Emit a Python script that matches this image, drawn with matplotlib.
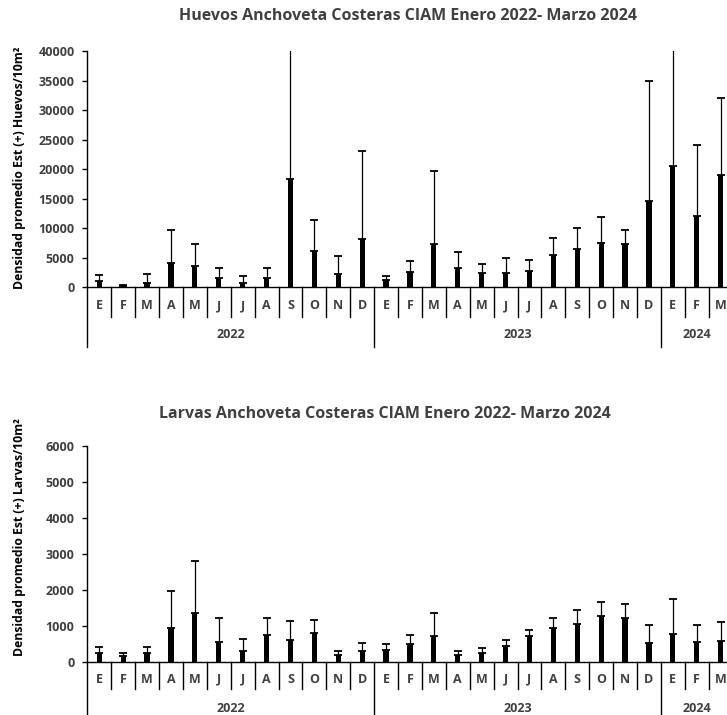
import numpy as np
import matplotlib
matplotlib.use("Agg")
import matplotlib.pyplot as plt

# -------------------------
# Data
# -------------------------
months = ["E", "F", "M", "A", "M", "J", "J", "A", "S", "O", "N", "D",
          "E", "F", "M", "A", "M", "J", "J", "A", "S", "O", "N", "D",
          "E", "F", "M"]
years = ["2022", "2023", "2024"]
months_per_year = [12, 12, 3]

huevos_mean = [1020, 200, 740, 4150, 3580, 1590, 800, 1530, 18400, 6200, 2200, 8240,
               1190, 2610, 7270, 3240, 2440, 2390, 2840, 5450, 6480, 7440, 7330, 14660,
               20510, 12050, 19030]
huevos_upper = [2160, 450, 2330, 9770, 7270, 3350, 1930, 3350, 46000, 11360, 5340, 23070,
                1990, 4430, 19660, 6020, 3920, 4890, 4550, 8410, 10110, 11820, 9770, 34890,
                46000, 24090, 32050]

larvas_mean = [260, 175, 260, 950, 1375, 555, 315, 748, 620, 820, 195, 315,
               332, 517, 720, 195, 250, 443, 720, 950, 1052, 1274, 1218, 545,
               775, 563, 582]
larvas_upper = [430, 270, 425, 1966, 2800, 1237, 646, 1218, 1135, 1180, 323, 535,
                500, 757, 1357, 323, 388, 618, 905, 1218, 1440, 1671, 1625, 1043,
                1745, 1043, 1117]

titles = ["Huevos Anchoveta Costeras CIAM Enero 2022- Marzo 2024",
          "Larvas Anchoveta Costeras CIAM Enero 2022- Marzo 2024"]
ylabels = ["Densidad promedio Est (+) Huevos/10m\u00b2",
           "Densidad promedio Est (+) Larvas/10m\u00b2"]

plt.rcParams['font.family'] = ['Open Sans', 'DejaVu Sans']
TXT = '#404040'
W, H = 727, 715
FS = 9.0

fig = plt.figure(figsize=(W / 100, H / 100), dpi=100)


def px_axes(left, top, bottom, right):
    # pixel box -> figure fraction rect
    return [left / W, 1 - bottom / H, (right - left) / W, (bottom - top) / H]


def draw_panel(ax, mean, upper, ymax, ystep, ylabel, ylabel_y, month_px, year_px):
    n = len(mean)
    x = np.arange(n)
    mean = np.array(mean)
    err = np.array(upper) - mean
    ax.bar(x, mean, width=0.22, color='black', zorder=2)
    ax.errorbar(x, mean, yerr=[np.zeros(n), err], fmt='none', ecolor='black',
                elinewidth=0.9, capsize=3.2, capthick=1.3, zorder=1)

    ax.set_xlim(-0.5, n - 0.5)
    ax.set_ylim(0, ymax)
    ax.set_yticks(np.arange(0, ymax + 1, ystep))
    for s in ['top', 'right']:
        ax.spines[s].set_visible(False)
    ax.spines['left'].set_linewidth(1)
    ax.spines['bottom'].set_linewidth(1)
    ax.tick_params(axis='y', direction='out', length=3.6, width=1, colors='black',
                   labelcolor=TXT, labelsize=FS, pad=5.5)
    for t in ax.get_yticklabels():
        t.set_fontweight('bold')

    # month labels + separators
    hpx = ax.get_position().height * H
    ax.set_xticks(x)
    ax.set_xticklabels(months, fontweight='bold', color=TXT, fontsize=FS)
    ax.tick_params(axis='x', length=0, pad=(month_px[1] - 8) * 0.72)
    tr = ax.get_xaxis_transform()
    m_len = month_px[0] / hpx
    y_len = year_px[0] / hpx
    bounds = np.cumsum([0] + months_per_year) - 0.5
    for i in range(1, n):
        if (i - 0.5) in bounds:
            continue
        ax.plot([i - 0.5, i - 0.5], [0, -m_len], transform=tr, color='black',
                lw=1, clip_on=False)
    for b in bounds[:-1]:
        ax.plot([b, b], [0, -y_len], transform=tr, color='black', lw=1, clip_on=False)
    for k, yr in enumerate(years):
        c = (bounds[k] + bounds[k + 1]) / 2
        ax.text(c, -year_px[1] / hpx, yr, transform=tr, ha='center', va='center',
                fontweight='bold', color=TXT, fontsize=FS)

    ax.set_ylabel(ylabel, fontweight='bold', fontsize=8.8, color='black')
    ax.yaxis.set_label_coords(-0.095, ylabel_y)


ax1 = fig.add_axes(px_axes(87.3, 51, 287.3, 87.3 + 27 * 23.9))
draw_panel(ax1, huevos_mean, huevos_upper, 40000, 5000, ylabels[0], 0.506,
           month_px=(29.5, 20), year_px=(60, 47))
fig.text(407.7 / W, 1 - 15.5 / H, titles[0], ha='center', va='center',
         fontweight='bold', color=TXT, fontsize=11.5)

ax2 = fig.add_axes(px_axes(87.3, 445.7, 662.3, 87.3 + 27 * 23.9))
draw_panel(ax2, larvas_mean, larvas_upper, 6000, 1000, ylabels[1], 0.578,
           month_px=(27, 18.5), year_px=(60, 46))
fig.text(384.7 / W, 1 - 414.5 / H, titles[1], ha='center', va='center',
         fontweight='bold', color=TXT, fontsize=11.5)

fig.savefig("out.png", dpi=100)
